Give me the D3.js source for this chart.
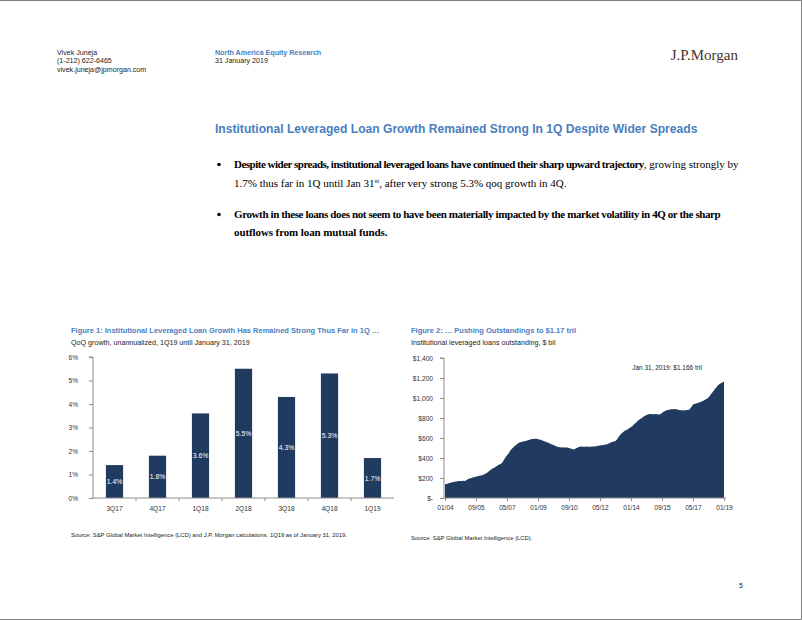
<!DOCTYPE html>
<html><head><meta charset="utf-8">
<script src="https://cdn.jsdelivr.net/npm/d3@7"></script>
<style>
html,body{margin:0;padding:0;background:#fff;}
svg{display:block;font-family:"Liberation Sans",Arial,sans-serif;}
</style></head>
<body><svg id="c" width="802" height="620"></svg>
<script>
// ---- Data ----
const fig1Categories = ["3Q17","4Q17","1Q18","2Q18","3Q18","4Q18","1Q19"];
const fig1Values = [1.4,1.8,3.6,5.5,4.3,5.3,1.7];
const fig1YTicks = [0,1,2,3,4,5,6];

const fig2Start = "2004-01";
// monthly institutional leveraged loans outstanding, $ bil, Jan 2004 .. Jan 2019
const fig2Values = [
137,140,145,150,155,158,162,165,168,170,171,171,
172,170,180,190,195,200,205,210,213,218,222,225,
228,235,242,250,262,275,288,298,305,315,325,335,
340,355,380,405,425,445,470,490,505,520,533,545,
555,560,562,568,570,575,580,585,590,590,593,592,
588,585,580,574,568,562,556,550,543,536,530,522,
515,510,508,506,507,505,504,506,500,495,490,486,
492,500,508,513,515,513,512,514,512,513,513,515,
515,516,520,523,526,528,530,533,536,540,548,556,
562,566,570,585,610,630,647,660,672,680,687,700,
710,720,737,750,765,780,790,800,812,822,831,836,
840,841,838,837,841,838,835,838,850,862,870,878,
880,884,888,888,890,888,885,880,878,878,874,878,
880,881,890,910,935,940,945,950,955,962,968,975,
985,992,1005,1025,1045,1066,1085,1105,1126,1138,1148,1155,
1166];
const fig2YTicks = [0,200,400,600,800,1000,1200,1400];
const fig2XTickLabels = ["01/04","09/05","05/07","01/09","09/10","05/12","01/14","09/15","05/17","01/19"];

const svg = d3.select("#c");
const navy = "#213a5f";
const blue = "#4a7ebf";
const axisCol = "#8c8c8c";
const tickFont = 6.6;

// page border (top, right, bottom)
svg.append("path").attr("d","M0,0.5H801.5V619.5H0").attr("fill","none").attr("stroke","#7f7f7f").attr("stroke-width",1);

// ---- Header ----
const hdr = svg.append("g").attr("font-size",7.1).attr("fill","#222");
["Vivek Juneja","(1-212) 622-6465","vivek.juneja@jpmorgan.com"].forEach((t,i)=>
  hdr.append("text").attr("x",57).attr("y",54.5+i*8.5).text(t));
hdr.append("text").attr("x",215).attr("y",54.5).attr("fill",blue).attr("font-weight","bold").text("North America Equity Research");
hdr.append("text").attr("x",215).attr("y",63).text("31 January 2019");
svg.append("text").attr("x",738).attr("y",59.5).attr("text-anchor","end")
  .attr("font-family","'Liberation Serif','Times New Roman',serif").attr("font-size",15)
  .attr("fill","#4a3328").text("J.P.Morgan");

// ---- Title ----
svg.append("text").attr("x",215).attr("y",133).attr("font-size",12.1).attr("font-weight","bold")
  .attr("fill",blue).text("Institutional Leveraged Loan Growth Remained Strong In 1Q Despite Wider Spreads");

// ---- Bullets ----
const serif = "'Liberation Serif','Times New Roman',serif";
const bl = svg.append("g").attr("font-family",serif).attr("font-size",11).attr("fill","#000");
function bullet(y){ bl.append("circle").attr("cx",219).attr("cy",y-3.5).attr("r",1.8).attr("fill","#000"); }
bullet(168);
const t1 = bl.append("text").attr("x",234).attr("y",168);
t1.append("tspan").attr("font-weight","bold").attr("letter-spacing",-0.5)
  .text("Despite wider spreads, institutional leveraged loans have continued their sharp upward trajectory");
t1.append("tspan").text(", growing strongly by");
let t2 = bl.append("text").attr("x",234).attr("y",187);
t2.append("tspan").text("1.7% thus far in 1Q until Jan 31");
t2.append("tspan").attr("font-size",7).attr("dy",-4).text("st");
t2.append("tspan").attr("dy",4).text(", after very strong 5.3% qoq growth in 4Q.");
bullet(218);
bl.append("text").attr("x",234).attr("y",218).attr("font-weight","bold").attr("letter-spacing",-0.39)
  .text("Growth in these loans does not seem to have been materially impacted by the market volatility in 4Q or the sharp");
bl.append("text").attr("x",234).attr("y",236).attr("font-weight","bold").attr("letter-spacing",-0.1)
  .text("outflows from loan mutual funds.");

// ---- Figure 1 ----
const f1 = svg.append("g");
f1.append("text").attr("x",71).attr("y",333).attr("font-size",7.5).attr("font-weight","bold").attr("fill",blue)
  .text("Figure 1: Institutional Leveraged Loan Growth Has Remained Strong Thus Far in 1Q …");
f1.append("text").attr("x",71).attr("y",345).attr("font-size",7.15).attr("fill","#222")
  .text("QoQ growth, unannualized, 1Q19 until January 31, 2019");

const x1 = d3.scaleBand().domain(fig1Categories).range([93,394]).paddingInner(0.6).paddingOuter(0.3);
const y1 = d3.scaleLinear().domain([0,6]).range([498,357]);

f1.selectAll("rect.bar").data(fig1Values).join("rect").attr("class","bar")
  .attr("x",(d,i)=>x1(fig1Categories[i])).attr("width",x1.bandwidth())
  .attr("y",d=>y1(d)).attr("height",d=>y1(0)-y1(d)).attr("fill",navy);
f1.selectAll("text.lab").data(fig1Values).join("text").attr("class","lab")
  .attr("x",(d,i)=>x1(fig1Categories[i])+x1.bandwidth()/2)
  .attr("y",d=>(y1(d)+y1(0))/2+2.5).attr("text-anchor","middle")
  .attr("font-size",6.8).attr("fill","#fff").text(d=>d.toFixed(1)+"%");

// y axis
const ya1 = f1.append("g").attr("transform","translate(93,0)")
  .call(d3.axisLeft(y1).tickValues(fig1YTicks).tickFormat(d=>d+"%").tickSize(4).tickPadding(11));
ya1.select(".domain").attr("stroke",axisCol).attr("d","M-4,"+y1(6)+"H0V"+y1(0));
ya1.selectAll(".tick line").attr("stroke",axisCol);
ya1.selectAll(".tick text").attr("font-size",tickFont).attr("fill","#333").attr("font-family","'Liberation Sans',Arial,sans-serif");
// x axis
const xa1 = f1.append("g").attr("transform","translate(0,498)");
xa1.append("line").attr("x1",93).attr("x2",394).attr("stroke",axisCol);
xa1.selectAll("line.tk").data(fig1Categories.slice(1)).join("line").attr("class","tk")
  .attr("x1",d=>x1(d)-x1.step()*x1.paddingInner()/2).attr("x2",d=>x1(d)-x1.step()*x1.paddingInner()/2)
  .attr("y1",0).attr("y2",3).attr("stroke",axisCol);
xa1.selectAll("text").data(fig1Categories).join("text")
  .attr("x",d=>x1(d)+x1.bandwidth()/2).attr("y",13).attr("text-anchor","middle")
  .attr("font-size",tickFont).attr("fill","#333").text(d=>d);

f1.append("text").attr("x",71).attr("y",537).attr("font-size",5.85).attr("fill","#222")
  .text("Source: S&P Global Market Intelligence (LCD) and J.P. Morgan calculations. 1Q19 as of January 31, 2019.");

// ---- Figure 2 ----
const f2 = svg.append("g");
f2.append("text").attr("x",411).attr("y",333).attr("font-size",7.5).attr("font-weight","bold").attr("fill",blue)
  .text("Figure 2: … Pushing Outstandings to $1.17 tril");
f2.append("text").attr("x",411).attr("y",345).attr("font-size",7.15).attr("fill","#222")
  .text("Institutional leveraged loans outstanding, $ bil");

const parseM = d3.timeParse("%Y-%m");
const start = parseM(fig2Start);
const series = fig2Values.map((v,i)=>({date:d3.timeMonth.offset(start,i), v}));
const x2 = d3.scaleTime().domain([start, series[series.length-1].date]).range([445,724]);
const y2 = d3.scaleLinear().domain([0,1400]).range([498,358]);

f2.append("path").datum(series)
  .attr("d",d3.area().x(d=>x2(d.date)).y0(y2(0)).y1(d=>y2(d.v)))
  .attr("fill",navy);

const ya2 = f2.append("g").attr("transform","translate(444,0)")
  .call(d3.axisLeft(y2).tickValues(fig2YTicks).tickFormat(d=>d===0?"$-":"$"+d3.format(",")(d)).tickSize(4).tickPadding(7));
ya2.select(".domain").attr("stroke",axisCol).attr("d","M-4,"+y2(1400)+"H0V"+y2(0));
ya2.selectAll(".tick line").attr("stroke",axisCol);
ya2.selectAll(".tick text").attr("font-size",tickFont).attr("fill","#333").attr("font-family","'Liberation Sans',Arial,sans-serif");

const xTickDates = fig2XTickLabels.map(s=>d3.timeParse("%m/%y")(s));
const xa2 = f2.append("g").attr("transform","translate(0,498)")
  .call(d3.axisBottom(x2).tickValues(xTickDates).tickFormat(d3.timeFormat("%m/%y")).tickSize(3).tickPadding(4));
xa2.select(".domain").attr("stroke",axisCol).attr("d","M444,0H726");
xa2.selectAll(".tick line").attr("stroke",axisCol);
xa2.selectAll(".tick text").attr("font-size",tickFont).attr("fill","#333").attr("font-family","'Liberation Sans',Arial,sans-serif");

f2.append("text").attr("x",667).attr("y",369.5).attr("text-anchor","middle").attr("font-size",6.5).attr("fill","#222")
  .text("Jan 31, 2019: $1.166 tril");

f2.append("text").attr("x",411).attr("y",540).attr("font-size",5.85).attr("fill","#222")
  .text("Source: S&P Global Market Intelligence (LCD).");

// page number
svg.append("text").attr("x",741).attr("y",588).attr("text-anchor","middle").attr("font-size",7).attr("fill","#222").text("5");
</script></body></html>
